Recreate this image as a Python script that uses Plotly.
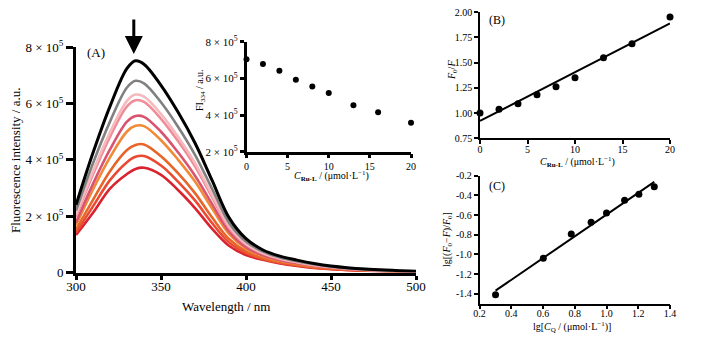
import plotly.graph_objects as go
import numpy as np

W, H = 709, 342
FONT = "Liberation Serif"

# ---------- Panel A: emission spectra ----------
wavelengths = [300, 310, 320, 330, 335, 340, 350, 360, 370, 380, 390, 400, 410, 420, 430, 440, 450, 470, 500]
# values in units of 1e5 a.u.
spec_black = [2.40, 4.25, 5.90, 7.25, 7.52, 7.40, 6.65, 5.70, 4.60, 3.28, 1.95, 1.20, 0.80, 0.58, 0.44, 0.32, 0.23, 0.12, 0.04]
spec_gray = [2.20, 3.88, 5.36, 6.57, 6.81, 6.72, 6.05, 5.18, 4.18, 2.98, 1.77, 1.10, 0.74, 0.53, 0.40, 0.29, 0.21, 0.11, 0.04]
spec_lpink = [2.05, 3.60, 4.98, 6.10, 6.32, 6.25, 5.63, 4.82, 3.89, 2.77, 1.65, 1.02, 0.69, 0.50, 0.37, 0.27, 0.20, 0.10, 0.03]
spec_pink = [1.98, 3.48, 4.82, 5.90, 6.12, 6.06, 5.46, 4.67, 3.77, 2.68, 1.60, 0.99, 0.67, 0.48, 0.36, 0.26, 0.19, 0.10, 0.03]
spec_rose = [1.78, 3.15, 4.37, 5.36, 5.56, 5.53, 5.00, 4.27, 3.44, 2.44, 1.46, 0.90, 0.61, 0.44, 0.33, 0.24, 0.17, 0.09, 0.03]
spec_orange = [1.68, 2.95, 4.09, 5.01, 5.21, 5.20, 4.70, 4.01, 3.23, 2.28, 1.37, 0.85, 0.58, 0.41, 0.31, 0.22, 0.16, 0.08, 0.03]
spec_dorange = [1.52, 2.58, 3.60, 4.35, 4.53, 4.55, 4.13, 3.53, 2.82, 1.96, 1.19, 0.75, 0.51, 0.37, 0.27, 0.19, 0.14, 0.07, 0.02]
spec_redorange = [1.42, 2.35, 3.28, 3.92, 4.11, 4.14, 3.80, 3.23, 2.56, 1.76, 1.07, 0.69, 0.48, 0.34, 0.25, 0.18, 0.13, 0.07, 0.02]
spec_red = [1.33, 2.12, 2.98, 3.50, 3.68, 3.72, 3.47, 2.93, 2.29, 1.56, 0.95, 0.62, 0.45, 0.32, 0.23, 0.16, 0.12, 0.06, 0.02]

spectra = [spec_black, spec_gray, spec_lpink, spec_pink, spec_rose, spec_orange, spec_dorange, spec_redorange, spec_red]
spec_colors = ["#000000", "#808080", "#f6b9bd", "#ef8d98", "#d85470", "#f08a36", "#e8652a", "#ea4a32", "#d9232f"]
spec_widths = [3, 2.6, 2.6, 2.6, 2.6, 2.6, 2.6, 2.6, 2.6]

main_yticks = [0, 2e5, 4e5, 6e5, 8e5]
main_yticktext = ["0", "2 × 10<sup>5</sup>", "4 × 10<sup>5</sup>", "6 × 10<sup>5</sup>", "8 × 10<sup>5</sup>"]
main_xticks = [300, 350, 400, 450, 500]

# ---------- Inset: FI334 vs concentration ----------
conc = [0, 2, 4, 6, 8, 10, 13, 16, 20]
fi334 = [7.04e5, 6.78e5, 6.42e5, 5.93e5, 5.55e5, 5.20e5, 4.53e5, 4.15e5, 3.58e5]
fi334_err = [0, 0, 0, 0, 0, 0, 0.08e5, 0.12e5, 0.10e5]
inset_yticks = [2e5, 4e5, 6e5, 8e5]
inset_yticktext = ["2 × 10<sup>5</sup>", "4 × 10<sup>5</sup>", "6 × 10<sup>5</sup>", "8 × 10<sup>5</sup>"]

# ---------- Panel B: Stern-Volmer ----------
f0_over_f = [1.00, 1.037, 1.093, 1.182, 1.261, 1.35, 1.548, 1.687, 1.951]

# ---------- Panel C: double log ----------
lg_cq = [0.301, 0.602, 0.778, 0.903, 1.0, 1.114, 1.204, 1.301]
lg_ratio = [-1.41, -1.04, -0.793, -0.674, -0.579, -0.45, -0.389, -0.312]

fig = go.Figure()

# spectra (draw red first so black on top)
for vals, col, w in reversed(list(zip(spectra, spec_colors, spec_widths))):
    fig.add_trace(go.Scatter(x=wavelengths, y=[v * 1e5 for v in vals], mode="lines",
                             line=dict(color=col, width=w, shape="spline", smoothing=1.0),
                             xaxis="x", yaxis="y", showlegend=False, cliponaxis=False))

# inset
fig.add_trace(go.Scatter(x=conc, y=fi334, mode="markers",
                         marker=dict(color="black", size=6),
                         error_y=dict(type="data", array=fi334_err, color="black", thickness=1, width=0),
                         xaxis="x2", yaxis="y2", showlegend=False, cliponaxis=False))

# panel B
b_fit = np.polyfit(conc, f0_over_f, 1)
bx = np.array([min(conc), max(conc)])
fig.add_trace(go.Scatter(x=bx, y=np.polyval(b_fit, bx), mode="lines",
                         line=dict(color="black", width=2), xaxis="x3", yaxis="y3", showlegend=False))
fig.add_trace(go.Scatter(x=conc, y=f0_over_f, mode="markers", marker=dict(color="black", size=7),
                         xaxis="x3", yaxis="y3", showlegend=False, cliponaxis=False))

# panel C
c_fit = np.polyfit(lg_cq, lg_ratio, 1)
cx = np.array([min(lg_cq), max(lg_cq)])
fig.add_trace(go.Scatter(x=cx, y=np.polyval(c_fit, cx), mode="lines",
                         line=dict(color="black", width=2), xaxis="x4", yaxis="y4", showlegend=False))
fig.add_trace(go.Scatter(x=lg_cq, y=lg_ratio, mode="markers", marker=dict(color="black", size=7),
                         xaxis="x4", yaxis="y4", showlegend=False, cliponaxis=False))


def px_x(p):
    return p / W


def px_y(p):
    return 1 - p / H


def ax_common(lw, ticklen, fs, standoff=0):
    return dict(showline=True, linecolor="black", linewidth=lw, ticks="outside", ticklen=ticklen,
                tickwidth=lw, tickcolor="black", showgrid=False, zeroline=False, automargin=False,
                ticklabelstandoff=standoff,
                tickfont=dict(family=FONT, size=fs, color="black"), fixedrange=True)


fig.update_layout(
    width=W, height=H, margin=dict(l=0, r=0, t=0, b=0, pad=0, autoexpand=False),
    paper_bgcolor="white", plot_bgcolor="rgba(0,0,0,0)",
    font=dict(family=FONT, color="black"),
    xaxis=dict(domain=[px_x(76), px_x(416)], range=[300, 500], tickvals=main_xticks,
               anchor="y", **ax_common(3, 4, 13, -4)),
    yaxis=dict(domain=[px_y(272.5), px_y(47.3)], range=[0, 8e5], tickvals=main_yticks,
               ticktext=main_yticktext, anchor="x", **ax_common(3, 7, 13)),
    xaxis2=dict(domain=[px_x(246.5), px_x(411)], range=[0, 20], tickvals=[0, 5, 10, 15, 20],
                anchor="y2", **ax_common(2.5, 4, 10)),
    yaxis2=dict(domain=[px_y(151.7), px_y(41.7)], range=[2e5, 8e5], tickvals=inset_yticks,
                ticktext=inset_yticktext, anchor="x2", **ax_common(2.5, 4, 11)),
    xaxis3=dict(domain=[px_x(480), px_x(670)], range=[0, 20], tickvals=[0, 5, 10, 15, 20],
                anchor="y3", **ax_common(1.5, 4, 10, -3)),
    yaxis3=dict(domain=[px_y(138.3), px_y(12)], range=[0.75, 2.0],
                tickvals=[0.75, 1.0, 1.25, 1.5, 1.75, 2.0],
                ticktext=["0.75", "1.00", "1.25", "1.50", "1.75", "2.00"], anchor="x3", **ax_common(1.5, 4, 10)),
    xaxis4=dict(domain=[px_x(479.5), px_x(670)], range=[0.2, 1.4],
                tickvals=[0.2, 0.4, 0.6, 0.8, 1.0, 1.2, 1.4],
                ticktext=["0.2", "0.4", "0.6", "0.8", "1.0", "1.2", "1.4"], anchor="y4", **ax_common(1.5, 4, 10, -4)),
    yaxis4=dict(domain=[px_y(303.5), px_y(175.7)], range=[-1.5, -0.2],
                tickvals=[-1.4, -1.2, -1.0, -0.8, -0.6, -0.4, -0.2],
                ticktext=["-1.4", "-1.2", "-1.0", "-0.8", "-0.6", "-0.4", "-0.2"], anchor="x4", **ax_common(1.5, 4, 10)),
)


def label(text, x, y, size, xanchor="center", angle=0):
    fig.add_annotation(text=text, x=px_x(x), y=px_y(y), xref="paper", yref="paper",
                       showarrow=False, xanchor=xanchor, yanchor="middle", textangle=angle,
                       font=dict(family=FONT, size=size, color="black"))


label("(A)", 85, 53, 13, xanchor="left")
label("(B)", 487, 20, 12, xanchor="left")
label("(C)", 487, 186, 12, xanchor="left")
label("Wavelength / nm", 226, 306, 13)
label("Fluorescence intensity / a.u.", 15, 160, 13, angle=-90)
label("<i>C</i><sub><b>Ru-L</b></sub> / (μmol·L<sup>−1</sup>)", 331, 176, 10)
label("FI<sub>334</sub> / a.u.", 201, 90, 10, angle=-90)
label("<i>C</i><sub><b>Ru-L</b></sub> / (μmol·L<sup>−1</sup>)", 577, 162, 10)
label("<i>F</i><sub>0</sub>/<i>F</i>", 452, 70, 10, angle=-90)
label("lg[<i>C</i><sub>Q</sub> / (μmol·L<sup>−1</sup>)]", 572, 327, 10)
label("lg[(<i>F</i><sub>0</sub>−<i>F</i>)/<i>F</i><sub>0</sub>]", 447, 240, 10, angle=-90)

# arrow above the peak
fig.add_annotation(x=334, y=7.76e5, xref="x", yref="y", ax=0, ay=-36, text="",
                   showarrow=True, arrowhead=2, arrowwidth=3, arrowsize=1.2, arrowcolor="black")

fig.write_html("out.html", config={"displayModeBar": False},
               post_script="document.body.style.margin='0';document.body.style.overflow='hidden';")
